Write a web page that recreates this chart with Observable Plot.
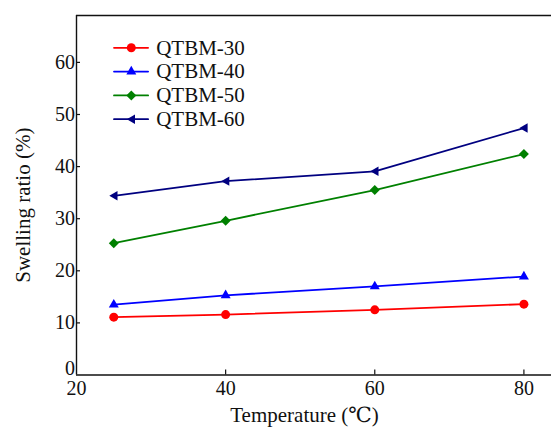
<!DOCTYPE html>
<html><head><meta charset="utf-8">
<script src="https://cdn.jsdelivr.net/npm/d3@7"></script>
<script src="https://cdn.jsdelivr.net/npm/@observablehq/plot@0.6"></script>
<style>
html,body{margin:0;padding:0;background:#fff}
#chart svg{display:block}
#chart svg, #chart svg text{font-family:"Liberation Serif","Tinos","Times New Roman","Nimbus Roman","DejaVu Serif","Noto Serif",serif !important}
</style>
</head><body><div id="chart"></div>
<script>
// ---- data ----
const temperatures = [25, 40, 60, 80];
const qtbm30 = [11.1, 11.6, 12.5, 13.6];
const qtbm40 = [13.5, 15.3, 17.0, 18.9];
const qtbm50 = [25.3, 29.6, 35.5, 42.4];
const qtbm60 = [34.4, 37.2, 39.1, 47.4];
const seriesNames = ["QTBM-30", "QTBM-40", "QTBM-50", "QTBM-60"];
const xTicks = [20, 40, 60, 80];
const yTicks = [0, 10, 20, 30, 40, 50, 60];
const xLabel = "Temperature (℃)";
const yLabel = "Swelling ratio (%)";

// ---- layout / style ----
const W = 551, H = 427, mL = 76, mR = 0, mT = 15, mB = 52.5;
const xDomain = [20, 83.7], yDomain = [0, 69];
const plotW = W - mL - mR, plotH = H - mT - mB;
const xs = d3.scaleLinear(xDomain, [mL, W - mR]);
const ys = d3.scaleLinear(yDomain, [H - mB, mT]);
const font = "Liberation Serif, Tinos, Times New Roman, DejaVu Serif, serif";
const colors = ["#ff0000", "#0000ff", "#008000", "#000080"];
const triangleLeft = {
  draw(ctx, size) {
    const r = Math.sqrt(size / Math.PI);
    ctx.moveTo(-1.15 * r, 0);
    ctx.lineTo(0.95 * r, -1.2 * r);
    ctx.lineTo(0.95 * r, 1.2 * r);
    ctx.closePath();
  }
};
const symbols = ["circle", "triangle", "diamond2", triangleLeft];
const radii = [4.5, 3.7, 4.5, 3.9];
const values = [qtbm30, qtbm40, qtbm50, qtbm60];

// legend layout (pixels)
const legTop = 47.3, legStep = 23.8, legLine = [113.5, 147.6], legMark = 130.8, legText = 155.7;

const marks = [];
// frame lines (top, bottom, left)
marks.push(Plot.ruleY([yDomain[0], yDomain[1]], {y: d => d, stroke: "#111", strokeWidth: 1.4}));
marks.push(Plot.ruleX([xDomain[0]], {x: d => d, stroke: "#111", strokeWidth: 1.4}));
// inward ticks
marks.push(Plot.ruleX(xTicks.slice(1), {x: d => d, insetTop: plotH - 5, stroke: "#111", strokeWidth: 1.2}));
marks.push(Plot.ruleY(yTicks.slice(1), {y: d => d, insetRight: plotW - 4, stroke: "#111", strokeWidth: 1.2}));
// tick labels
marks.push(Plot.axisX({ticks: xTicks, tickSize: 0, tickPadding: 5.5, label: null, fontSize: 20, tickFormat: d => String(d)}));
marks.push(Plot.axisY({ticks: yTicks.slice(1), tickSize: 0, tickPadding: 1.5, label: null, fontSize: 20, tickFormat: d => String(d)}));
marks.push(Plot.axisY({ticks: [0], tickSize: 0, tickPadding: 1.5, dy: -6.5, label: null, fontSize: 20, tickFormat: d => String(d)}));
// axis titles
marks.push(Plot.text([yLabel], {x: () => xs.invert(22.5), y: () => ys.invert(204.7), rotate: -90, textAnchor: "middle", lineAnchor: "middle", fontSize: 21, fill: "#111"}));
marks.push(Plot.text([xLabel], {x: () => xs.invert(304), y: () => ys.invert(415), textAnchor: "middle", lineAnchor: "middle", fontSize: 21, fill: "#111", clip: false}));

seriesNames.forEach((name, i) => {
  const pts = temperatures.map((t, j) => ({t, v: values[i][j]}));
  marks.push(Plot.line(pts, {x: "t", y: "v", stroke: colors[i], strokeWidth: 1.8}));
  marks.push(Plot.dot(pts, {x: "t", y: "v", fill: colors[i], stroke: "none", symbol: symbols[i], r: radii[i]}));
  // legend
  const ly = ys.invert(legTop + i * legStep);
  marks.push(Plot.line([[xs.invert(legLine[0]), ly], [xs.invert(legLine[1]), ly]], {stroke: colors[i], strokeWidth: 1.8}));
  marks.push(Plot.dot([[xs.invert(legMark), ly]], {fill: colors[i], stroke: "none", symbol: symbols[i], r: radii[i]}));
  marks.push(Plot.text([name], {x: () => xs.invert(legText), y: () => ly, textAnchor: "start", fontSize: 21, fill: "#111"}));
});

const chart = Plot.plot({
  width: W, height: H,
  marginLeft: mL, marginRight: mR, marginTop: mT, marginBottom: mB,
  x: {domain: xDomain},
  y: {domain: yDomain},
  style: {fontFamily: font, fontSize: "20px", color: "#111", background: "#fff", overflow: "visible"},
  marks
});
document.getElementById("chart").append(chart);
</script>
</body></html>
